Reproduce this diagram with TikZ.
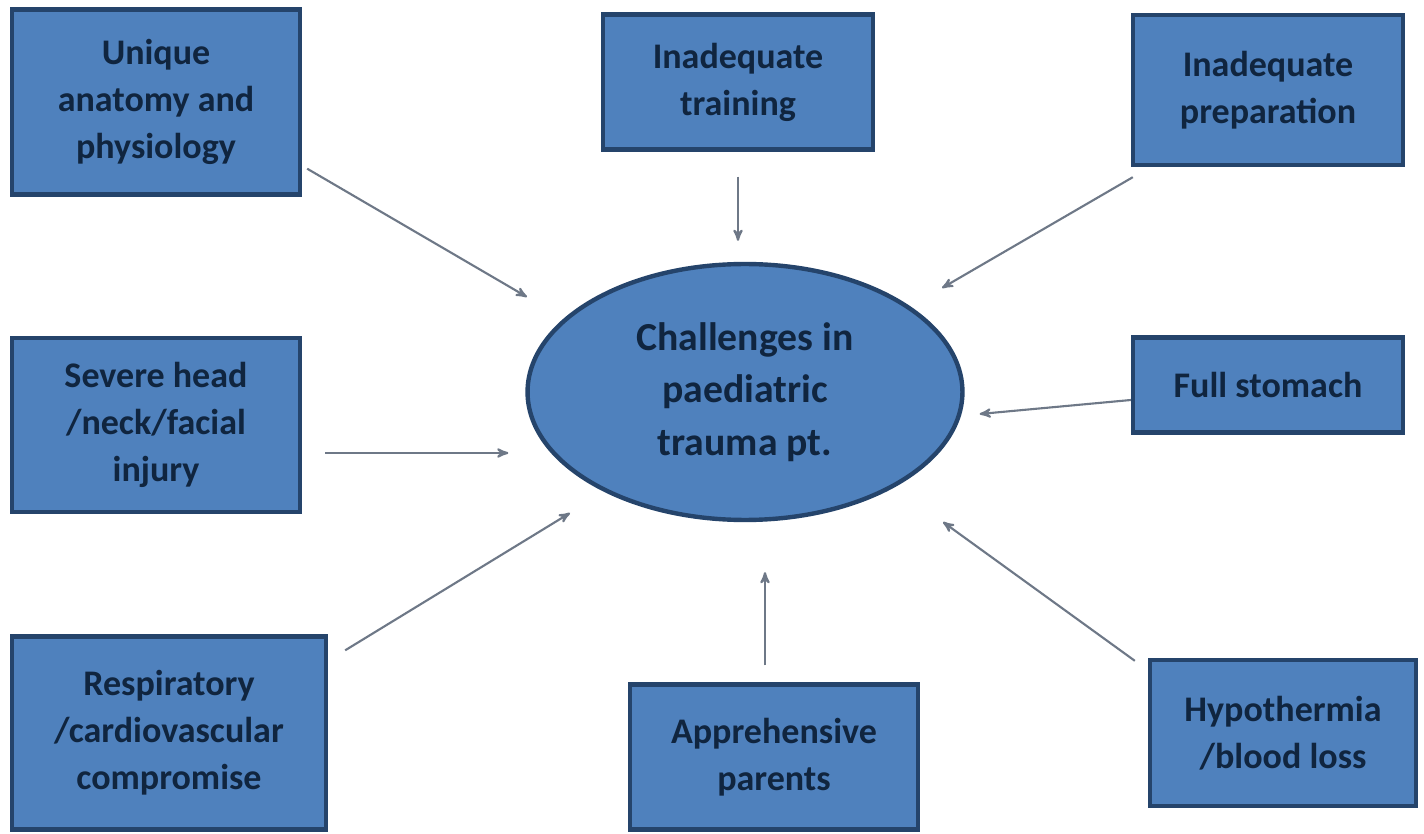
\documentclass[tikz,border=0pt]{standalone}
\usepackage{fontspec}
\setmainfont{Carlito}
\usepackage{tikz}
\usetikzlibrary{arrows,shapes,positioning,calc}
\usepackage{xcolor}
\definecolor{ptblue}{HTML}{4F81BD}
\definecolor{ptborder}{HTML}{25446B}
\definecolor{ptnavy}{HTML}{10253F}
\definecolor{ptgrey}{RGB}{110,120,135}
\tikzstyle{box} = [rectangle, draw=ptborder, line width=2.5pt, fill=ptblue, text=ptnavy, align=center, inner sep=0pt, font=\fontsize{20.5}{26.7}\selectfont\bfseries]
\tikzstyle{challenge} = [ellipse, draw=ptborder, line width=2.5pt, fill=ptblue, text=ptnavy, align=center, inner sep=0pt, minimum width=8.7cm, minimum height=5.12cm, font=\fontsize{22.6}{30}\selectfont\bfseries]
\tikzstyle{arrow} = [line width=1.2pt,->,>=stealth',color=ptgrey]

\begin{document}
\begin{tikzpicture}[x=0.02cm, y=-0.02cm]
\useasboundingbox[fill=white] (0,0) rectangle (1424,834);
% centre
\node[challenge] (c) at (745,392) {Challenges in\\paediatric\\trauma pt.};
% causes, top row
\node[box, minimum width=5.76cm, minimum height=3.7cm] (u) at (156,102) {Unique\\anatomy and\\physiology};
\node[box, minimum width=5.4cm, minimum height=2.7cm] (t) at (738,82) {Inadequate\\training};
\node[box, minimum width=5.4cm, minimum height=3cm] (p) at (1268,90) {Inadequate\\preparation};
% middle row
\node[box, minimum width=5.76cm, minimum height=3.48cm] (sh) at (156,425) {Severe head\\/neck/facial\\injury};
\node[box, minimum width=5.4cm, minimum height=1.9cm] (fs) at (1268,385) {Full stomach};
% bottom row
\node[box, minimum width=6.28cm, minimum height=3.86cm] (r) at (169,733) {Respiratory\\/cardiovascular\\compromise};
\node[box, minimum width=5.76cm, minimum height=2.9cm] (a) at (774,757) {Apprehensive\\parents};
\node[box, minimum width=5.32cm, minimum height=2.92cm] (h) at (1283,733) {Hypothermia\\/blood loss};
% arrows into the centre
\draw[arrow] ($(u.south east)+(5,-28)$) -- ($(c)+(-218,-95)$);
\draw[arrow] ($(t.south)+(0,25)$) -- ($(t.south |- c.north)+(0,-21)$);
\draw[arrow] ($(p.south west)+(2,10)$) -- ($(c)+(197,-104)$);
\draw[arrow] ($(fs.west)+(0,15)$) -- ($(c.east)+(15,22)$);
\draw[arrow] ($(sh.east)+(23,28)$) -- ($(c.west)+(-17,61)$);
\draw[arrow] ($(r.north east)+(17,16)$) -- ($(c)+(-175,121)$);
\draw[arrow] ($(a.north)+(-9,-17)$) -- ($(c.south)+(20,50)$);
\draw[arrow] ($(h.north west)+(-13,3)$) -- ($(c)+(198,130)$);
\end{tikzpicture}
\end{document}
